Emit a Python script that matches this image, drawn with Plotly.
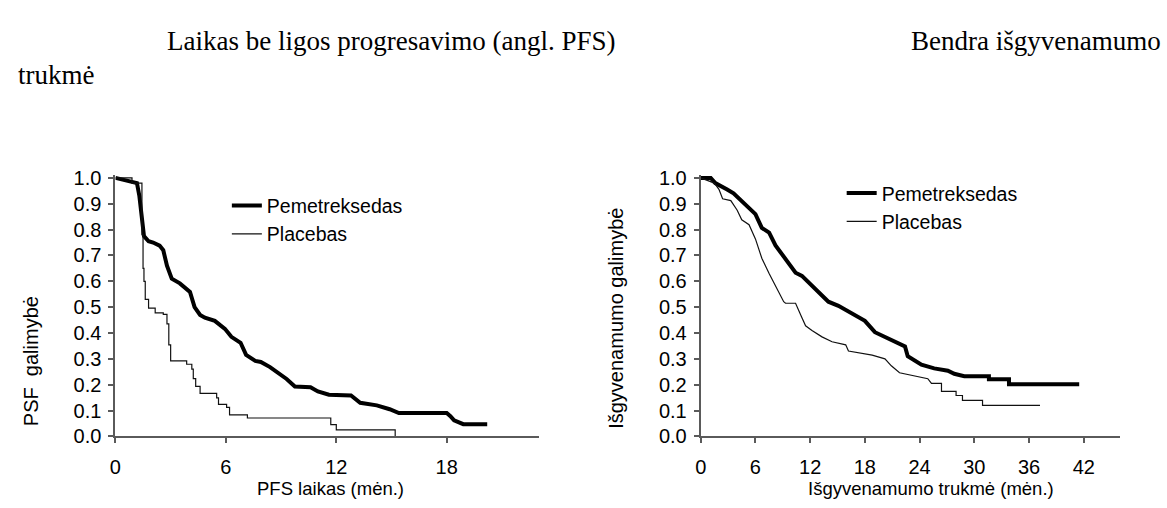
import plotly.graph_objects as go

# ---------------- data ----------------
pfs_pem_t = [0, 0.7, 1.17, 1.3, 1.45, 1.55, 1.8, 2.05, 2.4, 2.6, 2.8, 3.06, 3.5, 4.05, 4.3, 4.6,
             4.86, 5.4, 5.95, 6.3, 6.8, 7.1, 7.6, 7.9, 8.4, 8.9, 9.3, 9.75, 10.6, 11.0, 11.6,
             12.8, 13.0, 13.3, 14.2, 14.9, 15.4, 18.0, 18.2, 18.4, 18.9, 20.2]
pfs_pem_s = [1.0, 0.99, 0.98, 0.93, 0.82, 0.775, 0.755, 0.75, 0.738, 0.72, 0.66, 0.61, 0.592, 0.559, 0.5, 0.47,
             0.459, 0.447, 0.416, 0.385, 0.362, 0.315, 0.292, 0.288, 0.268, 0.242, 0.222, 0.193, 0.19, 0.174, 0.161,
             0.158, 0.145, 0.13, 0.12, 0.105, 0.09, 0.09, 0.078, 0.062, 0.047, 0.047]

pfs_pla_t = [0, 0.9, 1.44, 1.5, 1.55, 1.62, 1.8, 2.16, 2.6, 2.8, 2.9, 3.0, 3.87, 4.15, 4.23, 4.36, 4.6,
             5.5, 5.6, 6.04, 6.2, 7.17, 11.7, 12.0, 15.2]
pfs_pla_s = [1.0, 0.98, 0.78, 0.65, 0.6, 0.53, 0.496, 0.478, 0.472, 0.435, 0.354, 0.292, 0.279, 0.26, 0.223, 0.193, 0.166,
             0.149, 0.124, 0.112, 0.083, 0.071, 0.045, 0.025, 0.0]

os_pem_t = [0, 1.1, 1.6, 2.4, 2.9, 3.6, 4.4, 5.3, 6.0, 6.7, 7.5, 8.2, 9.1, 9.8, 10.4, 11.1, 12.2, 13.1,
            14.0, 15.1, 15.5, 16.9, 18.0, 19.1, 20.6, 22.4, 22.7, 24.2, 25.6, 27.1, 27.8, 28.9,
            31.6, 31.6, 33.8, 33.8, 41.5]
os_pem_s = [1.0, 1.0, 0.98, 0.966, 0.955, 0.94, 0.912, 0.881, 0.86, 0.807, 0.788, 0.739, 0.695, 0.658, 0.633, 0.621, 0.584, 0.552,
            0.521, 0.505, 0.497, 0.466, 0.447, 0.403, 0.379, 0.348, 0.31, 0.277, 0.263, 0.254, 0.242, 0.233,
            0.233, 0.221, 0.221, 0.202, 0.202]

os_pla_t = [0, 1.5, 2.0, 2.4, 3.3, 4.0, 4.5, 5.3, 6.0, 6.7, 7.5, 8.2, 9.1, 9.3, 10.4, 11.1, 11.5, 12.2,
            13.3, 14.4, 15.9, 16.2, 17.7, 18.8, 20.2, 20.9, 21.8, 23.3, 24.9, 25.3, 26.4, 26.4,
            28.0, 28.0, 28.7, 28.7, 30.9, 30.9, 37.2]
os_pla_s = [1.0, 0.98, 0.956, 0.919, 0.912, 0.875, 0.838, 0.819, 0.764, 0.689, 0.63, 0.584, 0.521, 0.515, 0.515, 0.459, 0.428, 0.41,
            0.385, 0.366, 0.354, 0.33, 0.322, 0.314, 0.3, 0.273, 0.246, 0.236, 0.223, 0.205, 0.205, 0.174,
            0.174, 0.158, 0.158, 0.139, 0.139, 0.12, 0.12]

series_names = ["Pemetreksedas", "Placebas"]
x_ticks_pfs = [0, 6, 12, 18]
x_ticks_os = [0, 6, 12, 18, 24, 30, 36, 42]
y_ticks = [0.0, 0.1, 0.2, 0.3, 0.4, 0.5, 0.6, 0.7, 0.8, 0.9, 1.0]

title_left = "Laikas be ligos progresavimo (angl. PFS)"
title_right = "Bendra išgyvenamumo"
title_wrap = "trukmė"
ytitle_pfs = "PSF  galimybė"
xtitle_pfs = "PFS laikas (mėn.)"
ytitle_os = "Išgyvenamumo galimybė"
xtitle_os = "Išgyvenamumo trukmė (mėn.)"

# ---------------- layout helpers (screen pixels of the 1167x508 window) ----------------
W, H = 1167, 508
def px(x):
    return x / W
def py(y):
    return (H - y) / H

SANS = "Liberation Sans, Arial, sans-serif"
SERIF = "Liberation Serif, Times New Roman, serif"
AXC = "#5a5a5a"

fig = go.Figure()
THICK = dict(color="black", width=4)
THIN = dict(color="#111111", width=1.2)

fig.add_trace(go.Scatter(x=pfs_pem_t, y=pfs_pem_s, mode="lines", line=THICK, name=series_names[0],
                         xaxis="x", yaxis="y", legend="legend"))
fig.add_trace(go.Scatter(x=pfs_pla_t, y=pfs_pla_s, mode="lines", line=dict(THIN, shape="hv"), name=series_names[1],
                         xaxis="x", yaxis="y", legend="legend"))
fig.add_trace(go.Scatter(x=os_pem_t, y=os_pem_s, mode="lines", line=THICK, name=series_names[0],
                         xaxis="x2", yaxis="y2", legend="legend2"))
fig.add_trace(go.Scatter(x=os_pla_t, y=os_pla_s, mode="lines", line=THIN, name=series_names[1],
                         xaxis="x2", yaxis="y2", legend="legend2"))

ydom = [py(445), py(445 - 1.01 * 268.5)]
TF = dict(family=SANS, size=20, color="black")
common_x = dict(showline=True, linecolor=AXC, linewidth=2, ticks="outside", ticklen=5, tickwidth=1.5,
                tickcolor=AXC, showgrid=False, zeroline=False, tickfont=TF, ticklabelstandoff=7)
common_y = dict(showline=True, linecolor=AXC, linewidth=2, ticks="outside", ticklen=5, tickwidth=1.5,
                tickcolor=AXC, showgrid=False, zeroline=False, tickfont=TF,
                range=[0, 1.01], tickvals=y_ticks, tickformat=".1f", domain=ydom, ticklabelstandoff=3)

fig.update_layout(
    width=W, height=H, margin=dict(l=0, r=0, t=0, b=0),
    paper_bgcolor="white", plot_bgcolor="white",
    xaxis=dict(common_x, domain=[px(110), px(110 + 23 * 18.5)], range=[0, 23], tickvals=x_ticks_pfs, anchor="y"),
    yaxis=dict(common_y, anchor="x"),
    xaxis2=dict(common_x, domain=[px(698.3), px(1120)], range=[0, 46], tickvals=x_ticks_os, anchor="y2"),
    yaxis2=dict(common_y, anchor="x2"),
    legend=dict(x=px(222), y=py(220), xanchor="left", yanchor="middle", bgcolor="rgba(0,0,0,0)",
                font=dict(family=SANS, size=19.5, color="black"), tracegroupgap=0),
    legend2=dict(x=px(840), y=py(207), xanchor="left", yanchor="middle", bgcolor="rgba(0,0,0,0)",
                 font=dict(family=SANS, size=19.5, color="black"), tracegroupgap=0),
    showlegend=True,
)

ann = []
ann.append(dict(text=title_left, x=px(160), y=py(34), xanchor="left", yanchor="middle",
                font=dict(family=SERIF, size=27, color="black")))
ann.append(dict(text=title_right, x=px(1163), y=py(34), xanchor="right", yanchor="middle",
                font=dict(family=SERIF, size=27, color="black")))
ann.append(dict(text=title_wrap, x=px(10), y=py(70), xanchor="left", yanchor="middle",
                font=dict(family=SERIF, size=27, color="black")))
ann.append(dict(text=ytitle_pfs, x=px(25), y=py(367), xanchor="center", yanchor="middle", textangle=-90,
                font=dict(family=SANS, size=20, color="black")))
ann.append(dict(text=xtitle_pfs, x=px(326), y=py(499), xanchor="center", yanchor="middle",
                font=dict(family=SANS, size=18.5, color="black")))
ann.append(dict(text=ytitle_os, x=px(613), y=py(322), xanchor="center", yanchor="middle", textangle=-90,
                font=dict(family=SANS, size=20, color="black")))
ann.append(dict(text=xtitle_os, x=px(930), y=py(499), xanchor="center", yanchor="middle",
                font=dict(family=SANS, size=18.5, color="black")))
for a in ann:
    a.update(xref="paper", yref="paper", showarrow=False)
fig.update_layout(annotations=ann)

# remove the browser's default 8px body margin so the figure fills the window exactly
fig.write_html("out.html", config={"displayModeBar": False},
               post_script="document.body.style.margin='0';document.body.style.overflow='hidden';")
